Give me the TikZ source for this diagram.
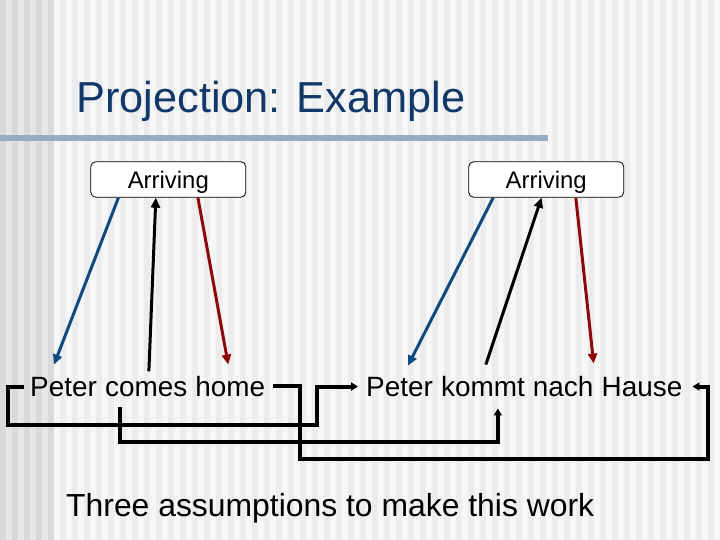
\documentclass[tikz,border=0pt]{standalone}
\usepackage{fontspec}
\setmainfont{Liberation Sans}
\usepackage{tikz}
\usetikzlibrary{positioning,calc,arrows.meta}

\definecolor{titleblue}{HTML}{103868}
\definecolor{rulegray}{HTML}{98ACC4}
\definecolor{linkblue}{HTML}{0E4A80}
\definecolor{linkred}{HTML}{8C0A0A}
\definecolor{stripeA}{HTML}{D9D9D9}
\definecolor{stripeB}{HTML}{E6E6E6}
\definecolor{stripeC}{HTML}{ECECEC}
\definecolor{stripeD}{HTML}{F6F6F6}

\begin{document}
\begin{tikzpicture}[x=1bp,y=-1bp,
	arrbox/.style={draw,rounded corners=5bp,fill=white,line width=0.8bp,minimum width=155bp,minimum height=35.5bp,text height=17.5bp,text depth=0bp,font=\fontsize{24}{24}\selectfont},
	word/.style={inner sep=0pt,font=\fontsize{28}{28}\selectfont},
	proj/.style={line width=3bp,-{Triangle[length=10bp,width=9bp]}},
	link/.style={line width=4bp,-{Triangle[length=7bp,width=8bp]}}]

	\useasboundingbox (0,0) rectangle (720,540);

	\fill[stripeB] (0,0) rectangle (54,540);
	\foreach \x in {0,12,...,48}
		\fill[stripeA] (\x,0) rectangle ++(6,540);
	\fill[stripeD] (54,0) rectangle (720,540);
	\foreach \x in {60,72,...,714}
		\fill[stripeC] (\x,0) rectangle ++(6,540);

	\node[anchor=base west,inner sep=0pt,titleblue,font=\fontsize{43.5}{43.5}\selectfont] (title) at (76,113) {Projection: Example};
	\draw[rulegray,line width=6bp] (0,138) -- (548,138);

	\node[arrbox] (arrL) at (168.3,179.5) {Arriving};
	\node[arrbox] (arrR) at (546.2,179.5) {Arriving};

	\node[word,anchor=base west] (peA) at (30,396) {Peter};
	\node[word,base right=7.8bp of peA] (coA) {comes};
	\node[word,base right=7.8bp of coA] (hoA) {home};

	\node[word,anchor=base west] (peB) at (366,396) {Peter};
	\node[word,base right=7.8bp of peB] (koB) {kommt};
	\node[word,base right=7.8bp of koB] (naB) {nach};
	\node[word,base right=7.8bp of naB] (haB) {Hause};

	\draw[proj,linkblue] ($(arrL.south west)!0.18!(arrL.south east)$) -- ([xshift=24bp,yshift=12bp]peA.north west);
	\draw[proj] ([xshift=44bp,yshift=9.5bp]coA.north west) -- ($(arrL.south west)!0.42!(arrL.south east)$);
	\draw[proj,linkred] ($(arrL.south west)!0.69!(arrL.south east)$) -- ([xshift=33bp,yshift=11bp]hoA.north west);

	\draw[proj,linkblue] ($(arrR.south west)!0.16!(arrR.south east)$) -- ([xshift=42bp,yshift=11bp]peB.north west);
	\draw[proj] ([xshift=45bp,yshift=11bp]koB.north west) -- ($(arrR.south west)!0.47!(arrR.south east)$);
	\draw[proj,linkred] ($(arrR.south west)!0.69!(arrR.south east)$) -- ([yshift=12bp]naB.north east);

	\draw[link] ([xshift=-6bp]peA.west) -- ++(-16,0) -- ++(0,38) -| ([xshift=-49bp]peB.west) -- ([xshift=-8bp]peB.west);
	\draw[link] ([xshift=15bp,yshift=-11bp]coA.south west) -- ++(0,35) -| ([xshift=57bp,yshift=-12bp]koB.south west);
	\draw[link] ([xshift=8bp]hoA.east) -- ++(27,0) -- ++(0,73) -| ([xshift=26bp]haB.east) -- ([xshift=10bp]haB.east);

	\node[anchor=base west,inner sep=0pt,font=\fontsize{32}{32}\selectfont] (note) at (66,516) {Three assumptions to make this work};

\end{tikzpicture}
\end{document}
